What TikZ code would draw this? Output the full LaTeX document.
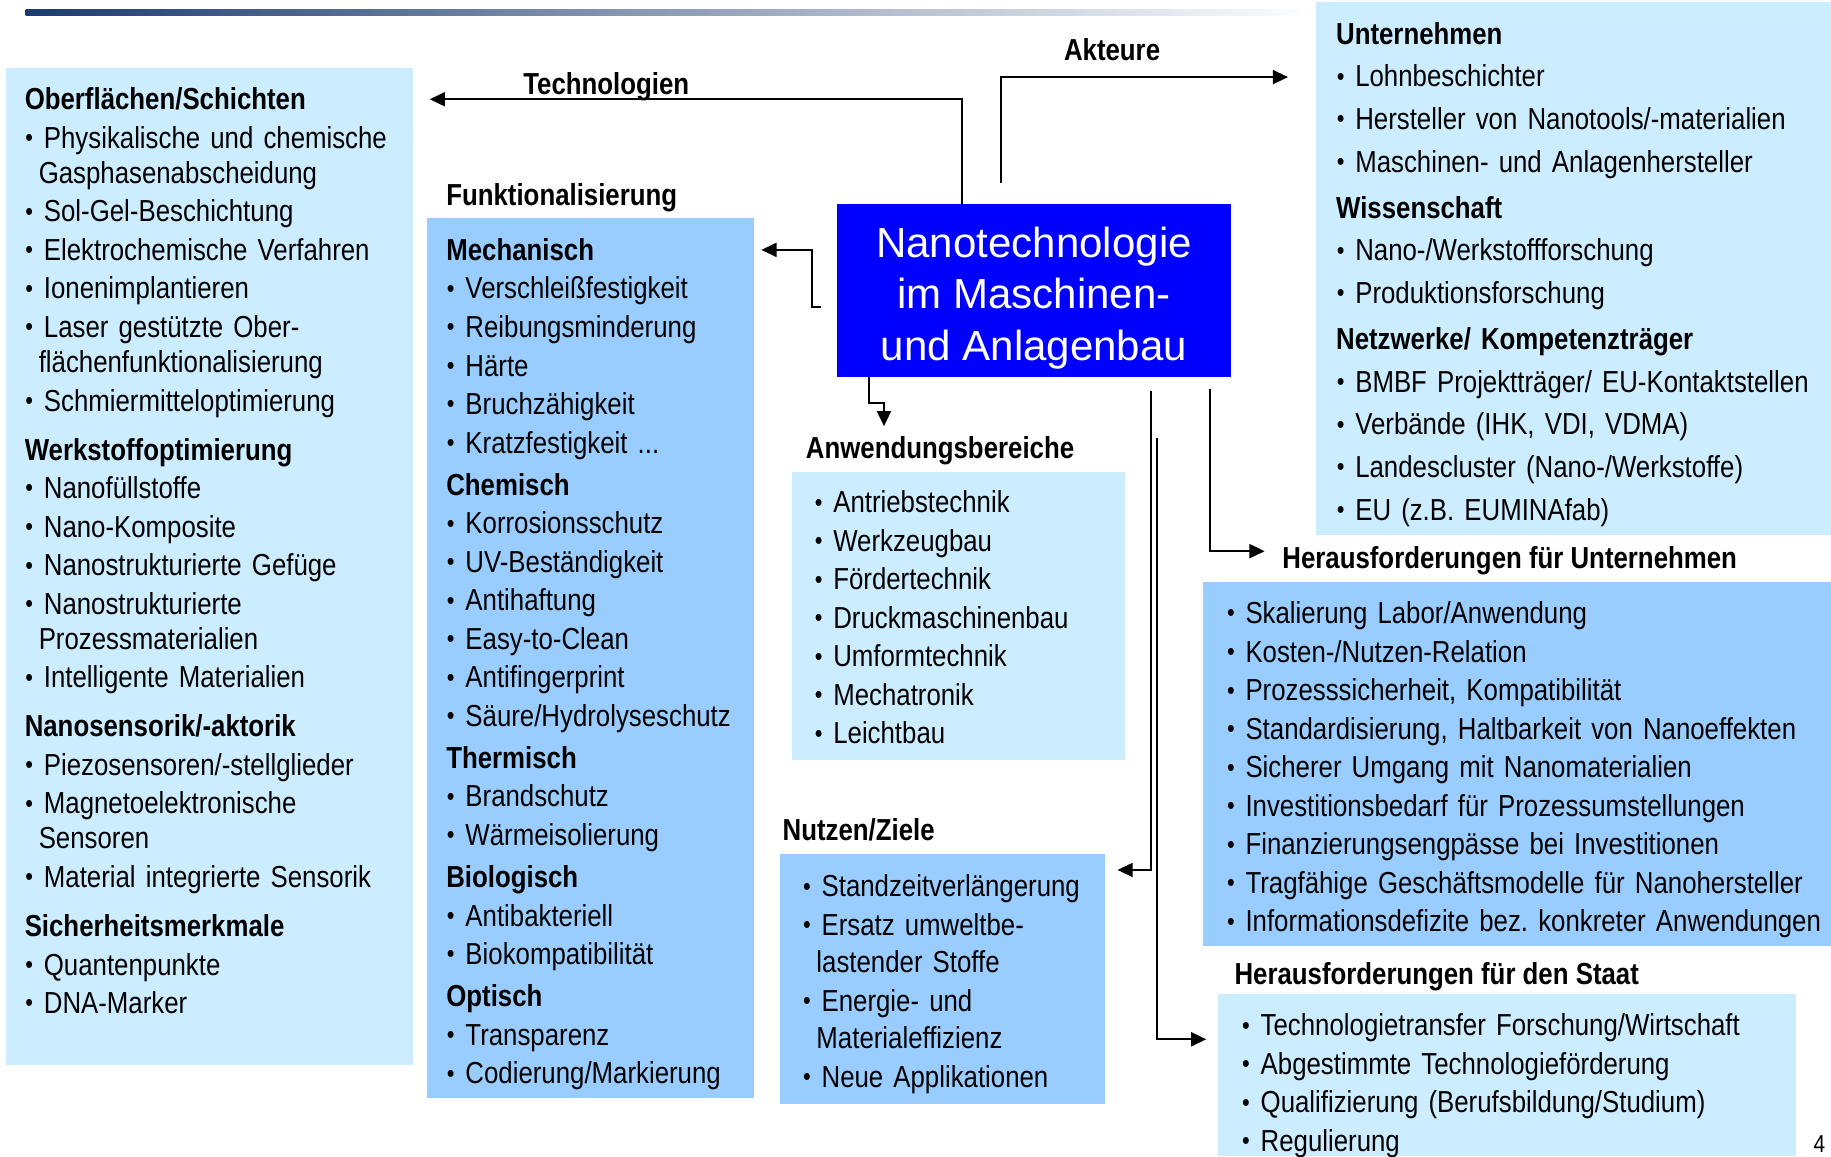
\documentclass[tikz,border=0pt]{standalone}
\usepackage{fontspec}
\usepackage{graphicx}
\usepackage{calc}
\setmainfont[FakeStretch=0.85]{Liberation Sans}
\newfontfamily\widesans{Liberation Sans}
\usepackage{tikz}
\usetikzlibrary{arrows.meta}
\definecolor{lightbox}{HTML}{CCECFF}
\definecolor{midbox}{HTML}{99CCFF}
\definecolor{nanoblue}{HTML}{0000FF}
\definecolor{barblue}{HTML}{1B3B6E}
\newcommand{\bl}{\makebox[\widthof{\textbullet}]{\raisebox{1.4pt}{\scalebox{0.85}{\textbullet}}}\ }
\newcommand{\hd}[1]{\textbf{#1}}
\newcommand{\cont}{\hspace*{12pt}}
\frenchspacing

\begin{document}
\begin{tikzpicture}[x=1pt,y=-1pt,
    panel/.style={anchor=north west,inner sep=0pt,outer sep=0pt},
    lightpanel/.style={panel,fill=lightbox},
    midpanel/.style={panel,fill=midbox},
    itemlist/.style={anchor=base west,inner sep=0pt,text width=560pt,align=left,font=\fontsize{26}{33}\selectfont},
    boxtitle/.style={anchor=base west,inner sep=0pt,font=\fontsize{26}{33}\selectfont\bfseries},
    arr/.style={-{Triangle[length=13pt,width=12pt]},line width=1.6pt}]
    \useasboundingbox (0,0) rectangle (1568,990);
    \shade[left color=barblue,middle color=barblue!50!white,right color=white] (22,8) rectangle (1127,13);

    \node[lightpanel,minimum width=349pt,minimum height=854pt] (tech) at (5,58) {};
    \node[midpanel,minimum width=280pt,minimum height=753pt] (funk) at (366,187) {};
    \node[lightpanel,minimum width=285pt,minimum height=247pt] (anw) at (678,404) {};
    \node[midpanel,minimum width=278pt,minimum height=214pt] (nutz) at (668,731) {};
    \node[lightpanel,minimum width=441pt,minimum height=456pt] (akt) at (1127,2) {};
    \node[midpanel,minimum width=538pt,minimum height=312pt] (hfu) at (1030,498) {};
    \node[lightpanel,minimum width=495pt,minimum height=139pt] (hfs) at (1043,851) {};
    \node[fill=nanoblue,inner sep=0pt,minimum width=337pt,minimum height=148pt] (nano) at (885.5,249) {};
    \node[text=white,inner sep=0pt,align=center,font=\widesans\fontsize{36}{44}\selectfont]
          (nanotext) at (885.5,255) {Nanotechnologie\\im Maschinen-\\und Anlagenbau};

    \node[itemlist] (techlist) at (21,94) {\hd{Oberflächen/Schichten}\\
        \bl Physikalische und chemische\\[-3pt]
        \cont Gasphasenabscheidung\\
        \bl Sol-Gel-Beschichtung\\
        \bl Elektrochemische Verfahren\\
        \bl Ionenimplantieren\\
        \bl Laser gestützte Ober-\\[-3pt]
        \cont flächenfunktionalisierung\\
        \bl Schmiermitteloptimierung\\[9pt]
        \hd{Werkstoffoptimierung}\\
        \bl Nanofüllstoffe\\
        \bl Nano-Komposite\\
        \bl Nanostrukturierte Gefüge\\
        \bl Nanostrukturierte\\[-3pt]
        \cont Prozessmaterialien\\
        \bl Intelligente Materialien\\[9pt]
        \hd{Nanosensorik/-aktorik}\\
        \bl Piezosensoren/-stellglieder\\
        \bl Magnetoelektronische\\[-3pt]
        \cont Sensoren\\
        \bl Material integrierte Sensorik\\[9pt]
        \hd{Sicherheitsmerkmale}\\
        \bl Quantenpunkte\\
        \bl DNA-Marker};

    \node[boxtitle] (funktitle) at (382,176) {Funktionalisierung};
    \node[itemlist] (funklist) at (382,223) {\hd{Mechanisch}\\
        \bl Verschleißfestigkeit\\
        \bl Reibungsminderung\\
        \bl Härte\\
        \bl Bruchzähigkeit\\
        \bl Kratzfestigkeit ...\\[3pt]
        \hd{Chemisch}\\
        \bl Korrosionsschutz\\
        \bl UV-Beständigkeit\\
        \bl Antihaftung\\
        \bl Easy-to-Clean\\
        \bl Antifingerprint\\
        \bl Säure/Hydrolyseschutz\\[3pt]
        \hd{Thermisch}\\
        \bl Brandschutz\\
        \bl Wärmeisolierung\\[3pt]
        \hd{Biologisch}\\
        \bl Antibakteriell\\
        \bl Biokompatibilität\\[3pt]
        \hd{Optisch}\\
        \bl Transparenz\\
        \bl Codierung/Markierung};

    \node[boxtitle] (anwtitle) at (690,393) {Anwendungsbereiche};
    \node[itemlist] (anwlist) at (697,439) {\bl Antriebstechnik\\
        \bl Werkzeugbau\\
        \bl Fördertechnik\\
        \bl Druckmaschinenbau\\
        \bl Umformtechnik\\
        \bl Mechatronik\\
        \bl Leichtbau};

    \node[boxtitle] (nutztitle) at (670,720) {Nutzen/Ziele};
    \node[itemlist] (nutzlist) at (687,768) {\bl Standzeitverlängerung\\
        \bl Ersatz umweltbe-\\[-1pt]
        \cont lastender Stoffe\\
        \bl Energie- und\\[-1pt]
        \cont Materialeffizienz\\
        \bl Neue Applikationen};

    \node[itemlist] (aktlist) at (1144,38) {\hd{Unternehmen}\\[3.5pt]
        \bl Lohnbeschichter\\[3.5pt]
        \bl Hersteller von Nanotools/-materialien\\[3.5pt]
        \bl Maschinen- und Anlagenhersteller\\[6.5pt]
        \hd{Wissenschaft}\\[3.5pt]
        \bl Nano-/Werkstoffforschung\\[3.5pt]
        \bl Produktionsforschung\\[6.5pt]
        \hd{Netzwerke/ Kompetenzträger}\\[3.5pt]
        \bl BMBF Projektträger/ EU-Kontaktstellen\\[3.5pt]
        \bl Verbände (IHK, VDI, VDMA)\\[3.5pt]
        \bl Landescluster (Nano-/Werkstoffe)\\[3.5pt]
        \bl EU (z.B. EUMINAfab)};

    \node[boxtitle] (hfutitle) at (1098,487) {Herausforderungen für Unternehmen};
    \node[itemlist] (hfulist) at (1050,534) {\bl Skalierung Labor/Anwendung\\
        \bl Kosten-/Nutzen-Relation\\
        \bl Prozesssicherheit, Kompatibilität\\
        \bl Standardisierung, Haltbarkeit von Nanoeffekten\\
        \bl Sicherer Umgang mit Nanomaterialien\\
        \bl Investitionsbedarf für Prozessumstellungen\\
        \bl Finanzierungsengpässe bei Investitionen\\
        \bl Tragfähige Geschäftsmodelle für Nanohersteller\\
        \bl Informationsdefizite bez. konkreter Anwendungen};

    \node[boxtitle] (hfstitle) at (1057,843) {Herausforderungen für den Staat};
    \node[itemlist] (hfslist) at (1063,887) {\bl Technologietransfer Forschung/Wirtschaft\\
        \bl Abgestimmte Technologieförderung\\
        \bl Qualifizierung (Berufsbildung/Studium)\\
        \bl Regulierung};

    \node[boxtitle] (techlabel) at (448,81) {Technologien};
    \node[boxtitle] (aktlabel) at (911,52) {Akteure};
    \node[font=\fontsize{21}{24}\selectfont,inner sep=0pt] (pagenum) at (1558,980) {4};

    \coordinate (techbend) at (824,85);
    \coordinate (techend) at (368,85);
    \coordinate (aktstart) at (857,157);
    \coordinate (aktend) at (1103,66);
    \coordinate (funkstart) at (703,263);
    \coordinate (funkend) at (652,214);
    \coordinate (anwbend) at (744,345);
    \coordinate (anwend) at (757,365);
    \coordinate (nutzstart) at (986,335);
    \coordinate (nutzend) at (957,745);
    \coordinate (hfsstart) at (991,375);
    \coordinate (hfsend) at (1033,890);
    \coordinate (hfustart) at (1036,333);
    \coordinate (hfuend) at (1083,472);

    \draw[arr] (nano.north -| techbend) -- (techbend) -- (techend);
    \draw[arr] (aktstart) |- (aktend);
    \draw[arr] (funkstart) -- ++(-8,0) |- (funkend);
    \draw[arr] (nano.south -| anwbend) -- (anwbend) -| (anwend);
    \draw[arr] (nutzstart) |- (nutzend);
    \draw[arr] (hfsstart) |- (hfsend);
    \draw[arr] (hfustart) |- (hfuend);
\end{tikzpicture}
\end{document}
